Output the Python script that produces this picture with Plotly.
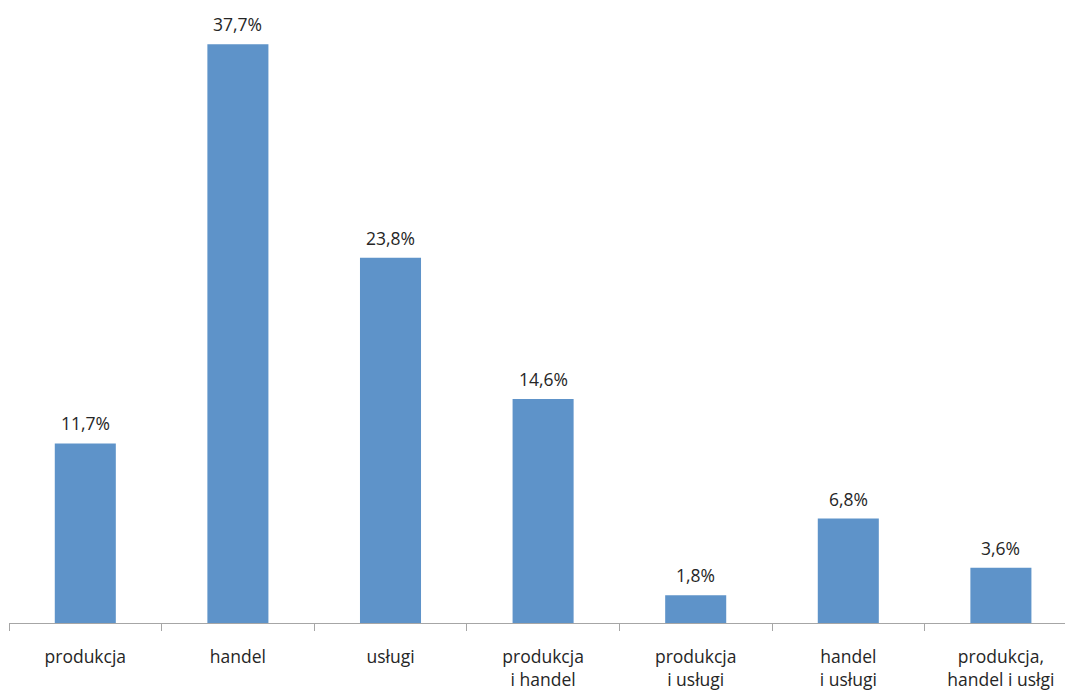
import plotly.graph_objects as go

# Business profile shares (%)
categories = [
    "produkcja",
    "handel",
    "usługi",
    "produkcja<br>i handel",
    "produkcja<br>i usługi",
    "handel<br>i usługi",
    "produkcja,<br>handel i usłgi",
]
values = [11.7, 37.7, 23.8, 14.6, 1.8, 6.8, 3.6]
value_labels = [f"{v:.1f}%".replace(".", ",") for v in values]

BAR_COLOR = "#5E93C9"
TEXT_COLOR = "#262626"
FONT = "Open Sans"

fig = go.Figure(
    go.Bar(
        x=categories,
        y=values,
        marker=dict(color=BAR_COLOR, line=dict(width=0)),
        width=0.4,
        hoverinfo="skip",
    )
)

for cat, v, lab in zip(categories, values, value_labels):
    fig.add_annotation(
        x=cat, y=v, text=lab, showarrow=False,
        yanchor="bottom", yshift=6,
        font=dict(family=FONT, size=17.5, color=TEXT_COLOR),
    )

fig.update_layout(
    width=1065, height=691,
    margin=dict(l=9, r=0, t=9, b=68),
    paper_bgcolor="white", plot_bgcolor="white",
    showlegend=False,
    font=dict(family=FONT, size=17.5, color=TEXT_COLOR),
    bargap=0.6,
)
fig.update_xaxes(
    type="category",
    range=[-0.5, -0.5 + 1056 / 152.6],
    tickson="boundaries",
    ticks="outside", ticklen=7, tickcolor="#A6A6A6", tickwidth=1,
    ticklabelstandoff=18,
    showline=True, linecolor="#A6A6A6", linewidth=1,
    showgrid=False, zeroline=False,
    tickfont=dict(family=FONT, size=17.5, color=TEXT_COLOR),
)
fig.update_yaxes(
    range=[0, 40], visible=False, showgrid=False, zeroline=False,
)

fig.write_html("out.html")
